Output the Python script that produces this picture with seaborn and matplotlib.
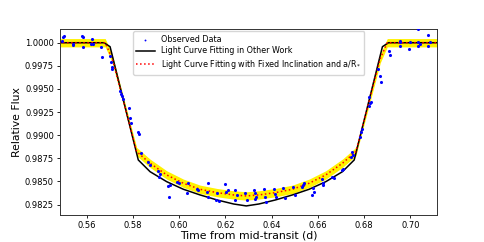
import matplotlib
matplotlib.use("Agg")
import matplotlib.pyplot as plt
import numpy as np
import seaborn as sns
import pandas as pd

# observed light curve
obs_time = [0.5492, 0.5499, 0.5502, 0.5539, 0.5542, 0.5578, 0.5585, 0.5585, 0.5622, 0.5619,
            0.5626, 0.5662, 0.5668, 0.5701, 0.5705, 0.5708, 0.5709, 0.5744, 0.5747, 0.5752,
            0.5756, 0.5785, 0.5788, 0.5792, 0.5823, 0.5828, 0.5834, 0.5867, 0.5874, 0.5910,
            0.5917, 0.5914, 0.5953, 0.5961, 0.5958, 0.5990, 0.5997, 0.6036, 0.6033, 0.6076,
            0.6083, 0.6119, 0.6124, 0.6126, 0.6163, 0.6160, 0.6170, 0.6199, 0.6203, 0.6209,
            0.6242, 0.6249, 0.6242, 0.6285, 0.6293, 0.6324, 0.6329, 0.6333, 0.6329, 0.6368,
            0.6372, 0.6376, 0.6408, 0.6415, 0.6420, 0.6451, 0.6457, 0.6494, 0.6502, 0.6531,
            0.6535, 0.6541, 0.6578, 0.6581, 0.6574, 0.6617, 0.6622, 0.6624, 0.6661, 0.6668,
            0.6704, 0.6708, 0.6744, 0.6747, 0.6750, 0.6783, 0.6787, 0.6790, 0.6823, 0.6826,
            0.6831, 0.6823, 0.6862, 0.6867, 0.6873, 0.6906, 0.6913, 0.6953, 0.6956, 0.6956,
            0.6992, 0.6999, 0.7031, 0.7035, 0.7040, 0.7035, 0.7074, 0.7074, 0.7083]
obs_flux = [1.00022, 1.00058, 1.00076, 0.99975, 0.99986, 1.00076, 1.00058, 0.99950, 1.00040, 0.99986,
            0.99986, 0.99950, 0.99849, 0.99860, 0.99795, 0.99741, 0.99716, 0.99481, 0.99446, 0.99427,
            0.99392, 0.99290, 0.99185, 0.99130, 0.99040, 0.99014, 0.98803, 0.98710, 0.98675, 0.98610,
            0.98581, 0.98545, 0.98452, 0.98463, 0.98330, 0.98498, 0.98481, 0.98481, 0.98373, 0.98420,
            0.98409, 0.98384, 0.98481, 0.98336, 0.98373, 0.98301, 0.98290, 0.98474, 0.98390, 0.98409,
            0.98409, 0.98355, 0.98301, 0.98373, 0.98301, 0.98409, 0.98373, 0.98336, 0.98308, 0.98416,
            0.98336, 0.98276, 0.98416, 0.98365, 0.98336, 0.98427, 0.98319, 0.98444, 0.98355, 0.98444,
            0.98463, 0.98481, 0.98427, 0.98390, 0.98355, 0.98524, 0.98481, 0.98463, 0.98552, 0.98535,
            0.98625, 0.98632, 0.98768, 0.98816, 0.98790, 0.98978, 0.99032, 0.99068, 0.99319, 0.99349,
            0.99363, 0.99410, 0.99716, 0.99643, 0.99579, 0.99914, 0.99867, 1.00022, 1.00004, 0.99968,
            0.99932, 1.00004, 1.00148, 1.00011, 0.99986, 0.99968, 1.00083, 0.99961, 1.00004]

# model from other work
other_time = [0.548, 0.5675, 0.5701, 0.5823, 0.5874, 0.5946, 0.6018, 0.6090, 0.6163, 0.6235, 0.6290,
              0.6345, 0.6417, 0.6490, 0.6562, 0.6634, 0.6706, 0.6757, 0.6879, 0.6905, 0.712]
other_flux = [1.0, 1.0, 0.99957, 0.98733, 0.98606, 0.98498, 0.98416, 0.98355, 0.98301, 0.98257, 0.98236,
              0.98257, 0.98301, 0.98355, 0.98416, 0.98498, 0.98606, 0.98733, 0.99957, 1.0, 1.0]

# model with fixed inclination and a/R*
fit_time = [0.548, 0.5680, 0.5710, 0.5816, 0.5874, 0.5946, 0.6018, 0.6090, 0.6163, 0.6235, 0.6290,
            0.6345, 0.6417, 0.6490, 0.6562, 0.6634, 0.6706, 0.6764, 0.6870, 0.6900, 0.712]
fit_flux = [1.0, 1.0, 0.9983, 0.98823, 0.98697, 0.98571, 0.98481, 0.98416, 0.98380, 0.98355, 0.98344,
            0.98355, 0.98380, 0.98416, 0.98481, 0.98571, 0.98697, 0.98823, 0.9983, 1.0, 1.0]
fit_err = 0.00045

obs = pd.DataFrame({"time": obs_time, "flux": obs_flux})
other = pd.DataFrame({"time": other_time, "flux": other_flux})
fit = pd.DataFrame({"time": fit_time, "flux": fit_flux})

fig, ax = plt.subplots(figsize=(4.85, 2.42), dpi=100)
fig.subplots_adjust(left=0.124, right=0.901, top=0.88, bottom=0.112)

ax.fill_between(fit["time"], fit["flux"] - fit_err, fit["flux"] + fit_err,
                color="#fff200", lw=0, zorder=1)
sns.scatterplot(data=obs, x="time", y="flux", ax=ax, color="blue", s=5, linewidth=0,
                label="Observed Data", zorder=4)
sns.lineplot(data=other, x="time", y="flux", ax=ax, color="black", lw=1.1, sort=False,
             estimator=None, label="Light Curve Fitting in Other Work", zorder=2)
sns.lineplot(data=fit, x="time", y="flux", ax=ax, color="red", lw=1.1, ls=":", sort=False,
             estimator=None, label="Light Curve Fitting with Fixed Inclination and a/R$_{*}$", zorder=3)

ax.set_xlim(0.5485, 0.7115)
ax.set_ylim(0.98139, 1.00148)
ax.set_xticks([0.56, 0.58, 0.60, 0.62, 0.64, 0.66, 0.68, 0.70])
ax.set_yticks([0.9825, 0.9850, 0.9875, 0.9900, 0.9925, 0.9950, 0.9975, 1.0000])
ax.set_xticklabels(["0.56", "0.58", "0.60", "0.62", "0.64", "0.66", "0.68", "0.70"])
ax.set_yticklabels(["0.9825", "0.9850", "0.9875", "0.9900", "0.9925", "0.9950", "0.9975", "1.0000"])
ax.tick_params(labelsize=6, length=2.5, width=0.6, pad=2)
for s in ax.spines.values():
    s.set_linewidth(0.7)
    s.set_color("#333333")
ax.set_xlabel("Time from mid-transit (d)", fontsize=7.8, labelpad=0.5)
ax.set_ylabel("Relative Flux", fontsize=7.8, labelpad=2)
ax.legend(loc="upper center", fontsize=5.8, handlelength=2.3, borderaxespad=0.3,
          labelspacing=0.35, markerscale=0.6)

fig.savefig("out.png", dpi=100)
